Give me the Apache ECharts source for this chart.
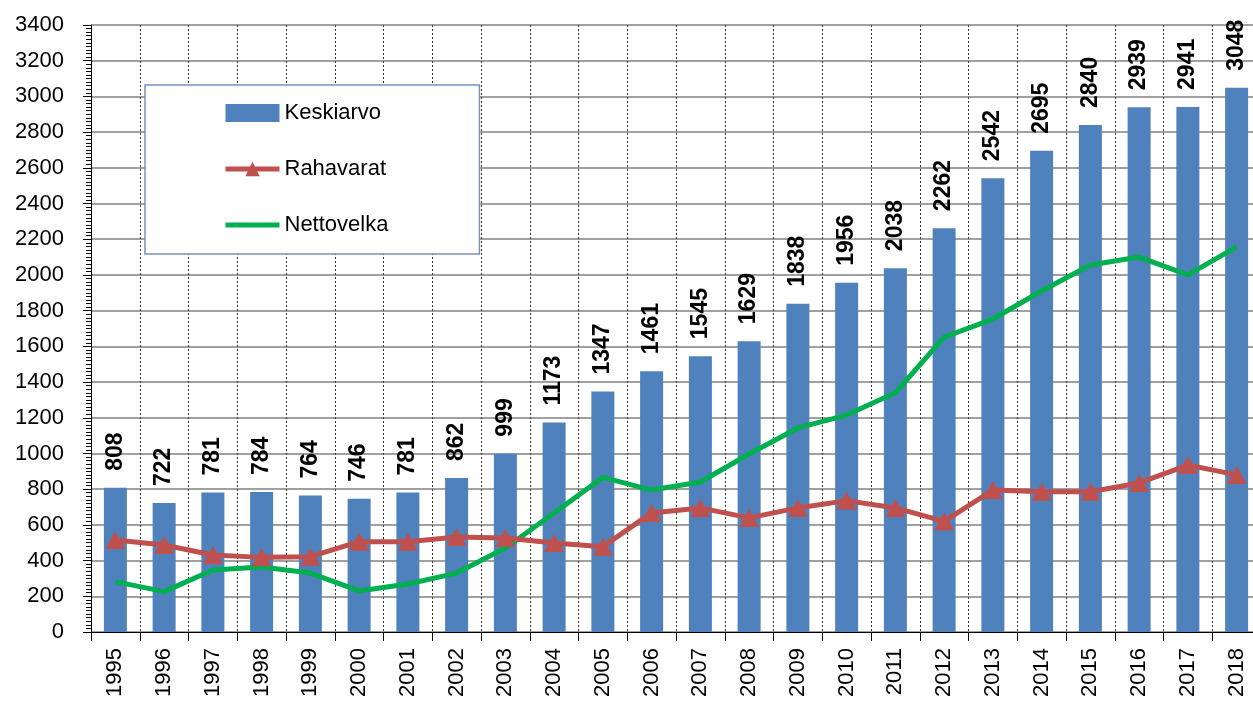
<!DOCTYPE html>
<html>
<head>
<meta charset="utf-8">
<script src="https://cdn.jsdelivr.net/npm/echarts@6/dist/echarts.min.js"></script>
<style>
	html, body { margin: 0; padding: 0; background: #fff; }
	#chart { width: 1253px; height: 702px; }
</style>
</head>
<body>
<div id="chart"></div>
<script>
var years = ['1995', '1996', '1997', '1998', '1999', '2000', '2001', '2002', '2003', '2004', '2005', '2006',
	'2007', '2008', '2009', '2010', '2011', '2012', '2013', '2014', '2015', '2016', '2017', '2018']
var keskiarvo = [808, 722, 781, 784, 764, 746, 781, 862, 999, 1173, 1347, 1461,
	1545, 1629, 1838, 1956, 2038, 2262, 2542, 2695, 2840, 2939, 2941, 3048]
var rahavarat = [515, 487, 431, 418, 422, 506, 506, 532, 527, 498, 478, 667,
	695, 639, 695, 736, 695, 620, 795, 786, 786, 835, 935, 880]
var nettovelka = [282, 226, 347, 364, 330, 230, 269, 330, 470, 667, 866, 795,
	840, 997, 1143, 1215, 1340, 1652, 1753, 1910, 2056, 2100, 2000, 2157]

var fontName = '"Liberation Sans", Arial, sans-serif'

var chart = echarts.init(document.getElementById('chart'))

var option = {
	animation: false,
	backgroundColor: '#fff',
	textStyle: { fontFamily: fontName },
	grid: { left: 91, right: -8, top: 25, bottom: 70, outerBoundsMode: 'none', containLabel: false },
	legend: {
		orient: 'vertical',
		left: 145,
		top: 85,
		padding: [17, 91, 18, 78],
		itemGap: 34,
		itemWidth: 54,
		itemHeight: 18,
		backgroundColor: '#fff',
		borderColor: '#7c93b8',
		borderWidth: 1.5,
		lineStyle: { width: 5 },
		textStyle: { fontSize: 22, color: '#000', fontFamily: fontName },
		data: [
			{ name: 'Keskiarvo', icon: 'rect' },
			'Rahavarat',
			{ name: 'Nettovelka', itemStyle: { opacity: 0 } }
		]
	},
	xAxis: {
		type: 'category',
		data: years,
		axisLine: { lineStyle: { color: '#000', width: 1 } },
		axisTick: { show: true, length: 9, lineStyle: { color: '#000' } },
		axisLabel: { rotate: 90, fontSize: 22, color: '#000', margin: 16, fontFamily: fontName },
		splitLine: { show: true, lineStyle: { color: '#333', type: [2, 2], width: 1 } }
	},
	yAxis: {
		type: 'value',
		min: 0,
		max: 3400,
		interval: 200,
		axisLine: { show: true, lineStyle: { color: '#000' } },
		axisTick: { show: true, length: 8, lineStyle: { color: '#000' } },
		minorTick: { show: true, splitNumber: 10, length: 5, lineStyle: { color: '#000' } },
		axisLabel: {
			fontSize: 22, color: '#000', margin: 27, fontFamily: fontName,
			formatter: function(v) { return String(v) }
		},
		splitLine: { show: true, lineStyle: { color: '#808080', width: 1.5 } }
	},
	series: [{
		name: 'Keskiarvo',
		type: 'bar',
		data: keskiarvo,
		barWidth: 23,
		itemStyle: { color: '#4f81bd' },
		label: {
			show: true,
			position: 'top',
			rotate: 90,
			align: 'left',
			verticalAlign: 'middle',
			distance: 17,
			fontSize: 23,
			fontWeight: 'bold',
			color: '#000',
			fontFamily: fontName
		},
		z: 2
	}, {
		name: 'Rahavarat',
		type: 'line',
		data: rahavarat,
		symbol: 'triangle',
		symbolSize: [20, 18],
		lineStyle: { color: '#c0504d', width: 5 },
		itemStyle: { color: '#c0504d' },
		z: 4
	}, {
		name: 'Nettovelka',
		type: 'line',
		data: nettovelka,
		symbol: 'none',
		lineStyle: { color: '#00b050', width: 5 },
		itemStyle: { color: '#00b050' },
		z: 3
	}]
}

chart.setOption(option)
</script>
</body>
</html>
